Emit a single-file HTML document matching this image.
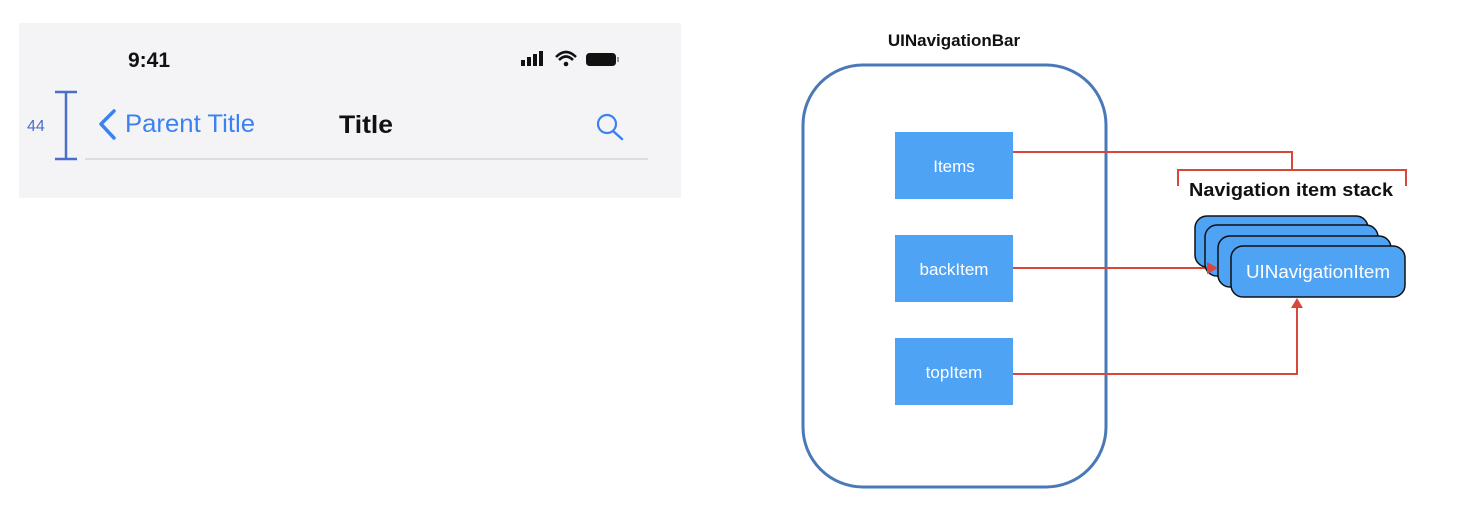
<!DOCTYPE html>
<html><head><meta charset="utf-8"><style>
body{margin:0;width:1482px;height:506px;background:#fff;overflow:hidden;font-family:"Liberation Sans",sans-serif;}
</style></head><body>
<svg width="1482" height="506" xmlns="http://www.w3.org/2000/svg" font-family="Liberation Sans, sans-serif">
<rect x="19" y="23" width="662" height="175" fill="#f4f4f6"/>
<text x="128" y="67" font-size="21" font-weight="bold" fill="#111">9:41</text>
<rect x="521" y="60" width="4" height="6" fill="#111"/><rect x="527" y="57" width="4" height="9" fill="#111"/><rect x="533" y="54" width="4" height="12" fill="#111"/><rect x="539" y="51" width="4" height="15" fill="#111"/>
<path d="M556 57 Q566 47 576 57 M559 60 Q566 53 573 60" stroke="#111" stroke-width="2.5" fill="none"/><circle cx="566" cy="64" r="2.3" fill="#111"/>
<rect x="586" y="53" width="30" height="13" rx="3.5" fill="#111"/><rect x="617" y="57" width="2" height="5" fill="#999"/>
<path d="M55 92H77M66 92V159M55 159H77" stroke="#4a6fc8" stroke-width="2.5" fill="none"/>
<text x="27" y="131" font-size="16" fill="#4a6fc8">44</text>
<path d="M114 111L101 124L114 138" stroke="#3b82f0" stroke-width="3.5" fill="none" stroke-linecap="round" stroke-linejoin="round"/>
<text x="125" y="132" font-size="25" fill="#3b82f0" textLength="130" lengthAdjust="spacingAndGlyphs">Parent Title</text>
<text x="339" y="133" font-size="25" font-weight="bold" fill="#111" textLength="54" lengthAdjust="spacingAndGlyphs">Title</text>
<circle cx="607" cy="124" r="9" stroke="#3b82f0" stroke-width="2.2" fill="none"/><path d="M613 131L622 139" stroke="#3b82f0" stroke-width="2.5" stroke-linecap="round"/>
<line x1="85" y1="159" x2="648" y2="159" stroke="#dcdce0" stroke-width="2"/>

<text x="954" y="46" font-size="17" font-weight="bold" text-anchor="middle" fill="#111">UINavigationBar</text>
<rect x="803" y="65" width="303" height="422" rx="60" stroke="#4a79b8" stroke-width="3" fill="none"/>
<g fill="#4fa3f5">
<rect x="895" y="132" width="118" height="67"/><rect x="895" y="235" width="118" height="67"/><rect x="895" y="338" width="118" height="67"/></g>
<g fill="#fff" font-size="17" text-anchor="middle">
<text x="954" y="172">Items</text><text x="954" y="275">backItem</text><text x="954" y="378">topItem</text></g>
<g stroke="#d9463a" stroke-width="2" fill="none">
<path d="M1013 152H1292V170"/>
<path d="M1178 186V170H1406V186"/>
<path d="M1013 268H1210"/>
<path d="M1013 374H1297V305"/>
</g>
<text x="1291" y="196" font-size="18" font-weight="bold" text-anchor="middle" fill="#111" textLength="204" lengthAdjust="spacingAndGlyphs">Navigation item stack</text>
<g fill="#4fa3f5" stroke="#111" stroke-width="1.5">
<rect x="1195" y="216" width="173" height="51" rx="12"/>
<rect x="1205" y="225" width="173" height="51" rx="12"/>
<rect x="1218" y="236" width="173" height="51" rx="12"/>
<rect x="1231" y="246" width="174" height="51" rx="12"/>
</g>
<path d="M1218 268L1207 262V274Z" fill="#d9463a"/>
<path d="M1297 298L1291 308H1303Z" fill="#d9463a"/>
<text x="1318" y="278" font-size="18" fill="#fff" text-anchor="middle" textLength="144" lengthAdjust="spacingAndGlyphs">UINavigationItem</text>
</svg>
</body></html>
